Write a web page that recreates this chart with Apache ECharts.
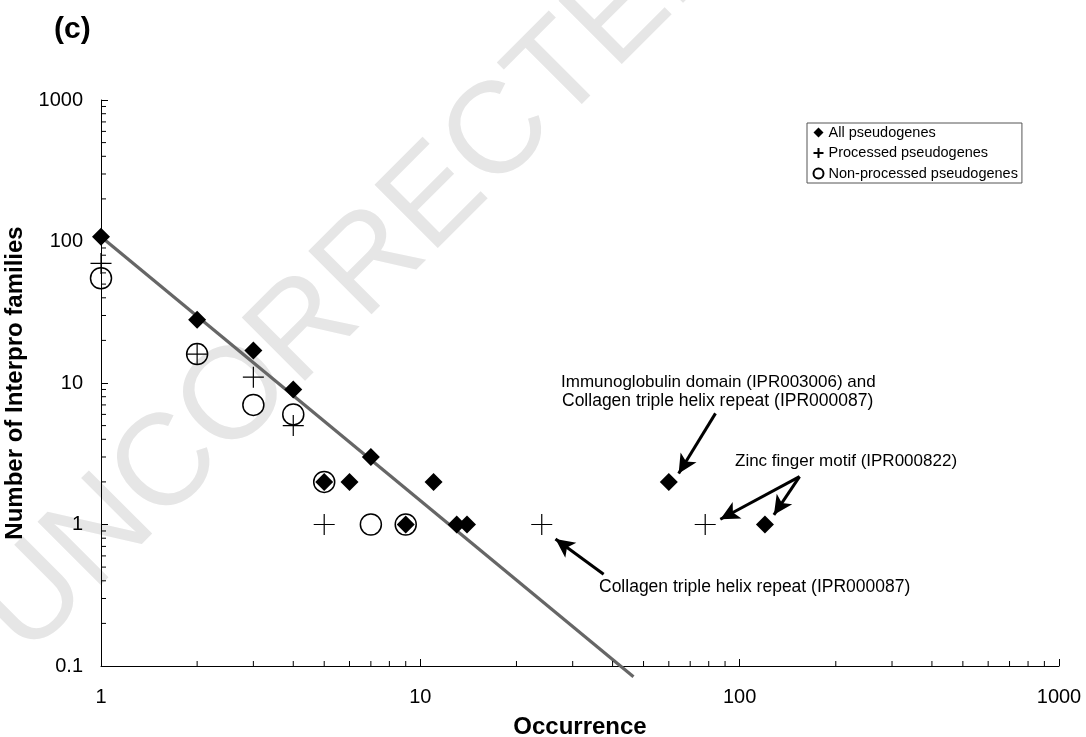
<!DOCTYPE html>
<html><head><meta charset="utf-8">
<script src="https://cdn.jsdelivr.net/npm/echarts@6/dist/echarts.min.js"></script>
<style>html,body{margin:0;padding:0;background:#fff}#c{width:1086px;height:737px}</style>
</head><body><div id="c"></div>
<script>
// ---- data ----
const allX  = [1, 2, 3, 4, 5, 6, 7, 9, 11, 13, 14, 60, 120];
const allY  = [108, 28, 17, 9, 2, 2, 3, 1, 2, 1, 1, 2, 1];
const procX = [1, 2, 3, 4, 5, 24, 78];
const procY = [70, 16, 11, 5, 1, 1, 1];
const nonX  = [1, 2, 3, 4, 5, 7, 9];
const nonY  = [55, 16, 7, 6, 2, 1, 1];
const fitX  = [1, 46.5];
const fitY  = [108, 0.084];
const xTicks = [1, 10, 100, 1000];
const yTicks = [0.1, 1, 10, 100, 1000];
const seriesNames = ['All pseudogenes', 'Processed pseudogenes', 'Non-processed pseudogenes'];
// annotation arrows: [fromX, fromY, toX, toY] in data units
const arrows = [
  [84, 6.1, 64.4, 2.29],
  [154, 2.18, 87, 1.09],
  [154, 2.18, 128, 1.17],
  [37.5, 0.445, 26.5, 0.79]
];

const FONT = "'Liberation Sans', Arial, Helvetica, sans-serif";
const zip = (xs, ys) => xs.map((x, i) => [x, ys[i]]);

// minor tick positions (2..9 within each decade)
const minorX = [], minorY = [];
for (let d = 0; d < xTicks.length - 1; d++) for (let k = 2; k <= 9; k++) minorX.push([+(xTicks[d] * k).toPrecision(3), yTicks[0]]);
for (let d = 0; d < yTicks.length - 1; d++) for (let k = 2; k <= 9; k++) minorY.push([xTicks[0], +(yTicks[d] * k).toPrecision(3)]);

const chart = echarts.init(document.getElementById('c'), null, {renderer: 'canvas'});
const fmt = v => String(+(+v).toPrecision(3));

chart.setOption({
  animation: false,
  backgroundColor: '#fff',
  textStyle: {fontFamily: FONT},
  title: {text: '(c)', left: 54, top: 15, padding: 0,
    textStyle: {fontFamily: FONT, fontSize: 30, fontWeight: 'bold', color: '#000'}},
  grid: {left: 101, right: 27, top: 100, bottom: 71, containLabel: false, outerBoundsMode: 'none'},
  legend: {
    orient: 'vertical', left: 807, top: 123, padding: [2, 4, 2, 4],
    itemWidth: 10, itemHeight: 10, itemGap: 5.5,
    borderColor: '#555', borderWidth: 1, backgroundColor: '#fff',
    textStyle: {fontFamily: FONT, fontSize: 14.5, color: '#000'},
    data: seriesNames
  },
  xAxis: {
    type: 'log', logBase: 10, min: xTicks[0], max: xTicks[xTicks.length - 1],
    name: 'Occurrence', nameLocation: 'middle', nameGap: 49,
    nameTextStyle: {fontFamily: FONT, fontSize: 24, fontWeight: 'bold', color: '#000'},
    axisLine: {lineStyle: {color: '#000', width: 1}},
    axisTick: {inside: true, length: 7, lineStyle: {color: '#000'}},
    axisLabel: {fontFamily: FONT, fontSize: 20, color: '#000', margin: 21, formatter: fmt},
    splitLine: {show: false}
  },
  yAxis: {
    type: 'log', logBase: 10, min: yTicks[0], max: yTicks[yTicks.length - 1],
    name: 'Number of Interpro families', nameLocation: 'middle', nameGap: 64,
    nameTextStyle: {fontFamily: FONT, fontSize: 24, fontWeight: 'bold', color: '#000'},
    axisLine: {lineStyle: {color: '#000', width: 1}},
    axisTick: {inside: true, length: 7, lineStyle: {color: '#000'}},
    axisLabel: {fontFamily: FONT, fontSize: 20, color: '#000', margin: 18, formatter: fmt},
    splitLine: {show: false}
  },
  graphic: [
    {type: 'text', x: 359, y: 276, rotation: Math.PI / 4, z: -10, silent: true,
      style: {text: 'UNCORRECTED', fontFamily: FONT, fontSize: 130, fill: '#e6e6e6',
        align: 'center', verticalAlign: 'middle'}},
    {type: 'text', x: 561, y: 382, z: 100, silent: true,
      style: {text: 'Immunoglobulin domain (IPR003006) and', fontFamily: FONT, fontSize: 17, fill: '#000', verticalAlign: 'middle'}},
    {type: 'text', x: 562, y: 401, z: 100, silent: true,
      style: {text: 'Collagen triple helix repeat (IPR000087)', fontFamily: FONT, fontSize: 17.5, fill: '#000', verticalAlign: 'middle'}},
    {type: 'text', x: 735, y: 461, z: 100, silent: true,
      style: {text: 'Zinc finger motif (IPR000822)', fontFamily: FONT, fontSize: 17, fill: '#000', verticalAlign: 'middle'}},
    {type: 'text', x: 599, y: 587, z: 100, silent: true,
      style: {text: 'Collagen triple helix repeat (IPR000087)', fontFamily: FONT, fontSize: 17.5, fill: '#000', verticalAlign: 'middle'}}
  ],
  series: [
    {
      name: 'fit', type: 'line', data: zip(fitX, fitY), showSymbol: false, symbol: 'none',
      clip: false, z: 1, silent: true,
      lineStyle: {color: '#666', width: 3.2}
    },
    {
      name: 'minorX', type: 'custom', data: minorX, silent: true, z: 3, clip: false,
      renderItem: (params, api) => {
        const p = api.coord([api.value(0), api.value(1)]);
        return {type: 'line', shape: {x1: p[0], y1: p[1], x2: p[0], y2: p[1] - 5},
          style: {stroke: '#000', lineWidth: 1}};
      }
    },
    {
      name: 'minorY', type: 'custom', data: minorY, silent: true, z: 3, clip: false,
      renderItem: (params, api) => {
        const p = api.coord([api.value(0), api.value(1)]);
        return {type: 'line', shape: {x1: p[0], y1: p[1], x2: p[0] + 5, y2: p[1]},
          style: {stroke: '#000', lineWidth: 1}};
      }
    },
    {
      name: seriesNames[2], type: 'scatter', data: zip(nonX, nonY), z: 4,
      symbol: 'circle', symbolSize: 21,
      itemStyle: {color: 'rgba(255,255,255,0)', borderColor: '#000', borderWidth: 1.5, opacity: 1}
    },
    {
      name: seriesNames[1], type: 'scatter', data: zip(procX, procY), z: 5,
      symbol: 'path://M10,0L10,20M0,10L20,10', symbolSize: 21,
      itemStyle: {color: 'none', borderColor: '#000', borderWidth: 1.2, opacity: 1}
    },
    {
      name: seriesNames[0], type: 'scatter', data: zip(allX, allY), z: 6,
      symbol: 'diamond', symbolSize: 18,
      itemStyle: {color: '#000', opacity: 1},
      markLine: {
        silent: true, animation: false,
        symbol: ['none', 'arrow'], symbolSize: [14, 19],
        label: {show: false},
        lineStyle: {color: '#000', width: 3, type: 'solid'},
        data: arrows.map(a => [{coord: [a[0], a[1]]}, {coord: [a[2], a[3]]}])
      }
    }
  ]
});
</script>
</body></html>
